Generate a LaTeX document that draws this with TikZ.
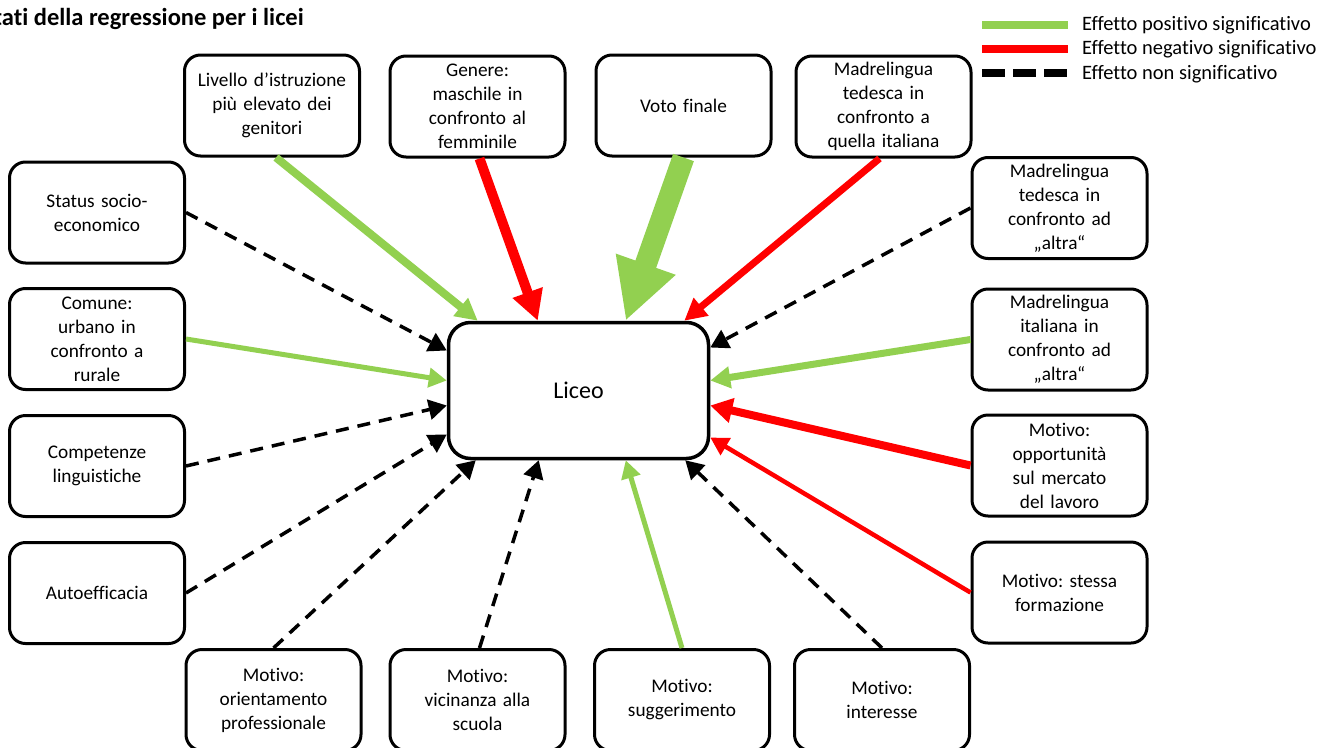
\documentclass[tikz,border=0pt]{standalone}
\usepackage{fontspec}
\setmainfont{Carlito}[Ligatures=NoCommon]
\usetikzlibrary{arrows.meta,calc}
\definecolor{posgreen}{HTML}{92D050}
\definecolor{negred}{HTML}{FF0000}
\frenchspacing
\begin{document}
\begin{tikzpicture}[x=1pt,y=-1pt,
  box/.style={draw=black, line width=3pt, rounded corners=16pt, fill=white,
    minimum width=175pt, minimum height=101pt, inner sep=0pt,
    align=center, text width=172pt, font=\fontsize{19.3}{24}\selectfont},
  center box/.style={draw=black, line width=3.5pt, rounded corners=22pt, fill=white,
    minimum width=260pt, minimum height=136pt, font=\fontsize{24}{28}\selectfont},
  posarr/.style n args={3}{draw=posgreen, line width=#1pt, -{Triangle[width=#2pt,length=#3pt]}},
  negarr/.style n args={3}{draw=negred, line width=#1pt, -{Triangle[width=#2pt,length=#3pt]}},
  nsarr/.style={draw=black, line width=3.5pt, dash pattern=on 13pt off 9pt,
    -{Triangle[width=20pt,length=18pt]}},
  legtext/.style={anchor=west, inner sep=0pt, font=\fontsize{20.5}{24}\selectfont},
  titletext/.style={anchor=base east, inner sep=0pt, font=\fontsize{24.5}{28}\selectfont\bfseries}
]
\useasboundingbox (0,0) rectangle (1330,747);
\clip (0,0) rectangle (1330,747);

% title
\node[titletext] (title) at (304,25) {Risultati della regressione per i licei};

% legend
\coordinate (l1a) at (982,25); \coordinate (l1b) at (1068,25);
\coordinate (l2a) at (982,49); \coordinate (l2b) at (1068,49);
\coordinate (l3a) at (982,73); \coordinate (l3b) at (1068,73);
\draw[posgreen, line width=7.5pt] (l1a) -- (l1b);
\draw[negred, line width=7.5pt] (l2a) -- (l2b);
\draw[black, line width=7.5pt, dash pattern=on 23pt off 8pt] (l3a) -- (l3b);
\node[legtext] (t1) at (1082,25) {Effetto positivo significativo};
\node[legtext] (t2) at (1082,49) {Effetto negativo significativo};
\node[legtext] (t3) at (1082,74) {Effetto non significativo};

% central node
\node[center box] (liceo) at (578.5,390.5) {Liceo};

% top row
\node[box] (liv) at (272,105.5) {Livello d’istruzione\\più elevato dei\\genitori};
\node[box] (gen) at (477.5,106.5) {Genere:\\maschile in\\confronto al\\femminile};
\node[box] (voto) at (683.5,105.5) {Voto finale};
\node[box] (madit) at (883.5,106.5) {Madrelingua\\tedesca in\\confronto a\\quella italiana};

% left column
\node[box] (sta) at (97,212.5) {Status socio-\\economico};
\node[box] (com) at (97,339) {Comune:\\urbano in\\confronto a\\rurale};
\node[box] (comp) at (97,466) {Competenze\\linguistiche};
\node[box] (auto) at (97,593) {Autoefficacia};

% right column
\node[box] (madal) at (1059.5,208) {Madrelingua\\tedesca in\\confronto ad\\„altra“};
\node[box] (maditalt) at (1059.5,339.5) {Madrelingua\\italiana in\\confronto ad\\„altra“};
\node[box] (opp) at (1059.5,465.5) {Motivo:\\opportunità\\sul mercato\\del lavoro};
\node[box] (ste) at (1059.5,592.5) {Motivo: stessa\\formazione};

% bottom row
\node[box] (ori) at (273.5,700) {Motivo:\\orientamento\\professionale};
\node[box] (vic) at (477.5,700) {Motivo:\\vicinanza alla\\scuola};
\node[box] (sug) at (682,700) {Motivo:\\suggerimento};
\node[box] (inte) at (882,700) {Motivo:\\interesse};

% connectors: top
\draw[posarr={8}{22}{22}] ($(liv.south)+(4,0)$) -- ($(liceo.north west)+(31,0)$);
\draw[negarr={10}{30}{30}] ($(gen.south)+(2,0)$) -- ($(liceo.north west)+(91,0)$);
\draw[posarr={22}{59}{60}] (voto.south) -- ($(liceo.north west)+(179,0)$);
\draw[negarr={7}{22}{22}] ($(madit.south)+(-4,0)$) -- ($(liceo.north east)+(-26,0)$);

% connectors: left
\draw[nsarr] (sta.east) -- ($(liceo.west)+(0,-40)$);
\draw[posarr={5}{19}{18}] (com.east) -- ($(liceo.west)+(0,-10)$);
\draw[nsarr] (comp.east) -- ($(liceo.west)+(0,15)$);
\draw[nsarr] (auto.east) -- ($(liceo.west)+(0,44)$);

% connectors: bottom
\draw[nsarr] (ori.north) -- ($(liceo.south west)+(29,0)$);
\draw[nsarr] ($(vic.north)+(2,0)$) -- ($(liceo.south west)+(92,0)$);
\draw[posarr={5}{19}{18}] (sug.north) -- ($(liceo.south west)+(179,0)$);
\draw[nsarr] (inte.north) -- ($(liceo.south east)+(-25,0)$);

% connectors: right
\draw[nsarr] (madal.west) -- ($(liceo.east)+(0,-43)$);
\draw[posarr={7}{21}{20}] (maditalt.west) -- ($(liceo.east)+(0,-10)$);
\draw[negarr={8}{24}{22}] (opp.west) -- ($(liceo.east)+(0,15)$);
\draw[negarr={4.5}{19}{18}] (ste.west) -- ($(liceo.east)+(0,47)$);
\end{tikzpicture}
\end{document}
